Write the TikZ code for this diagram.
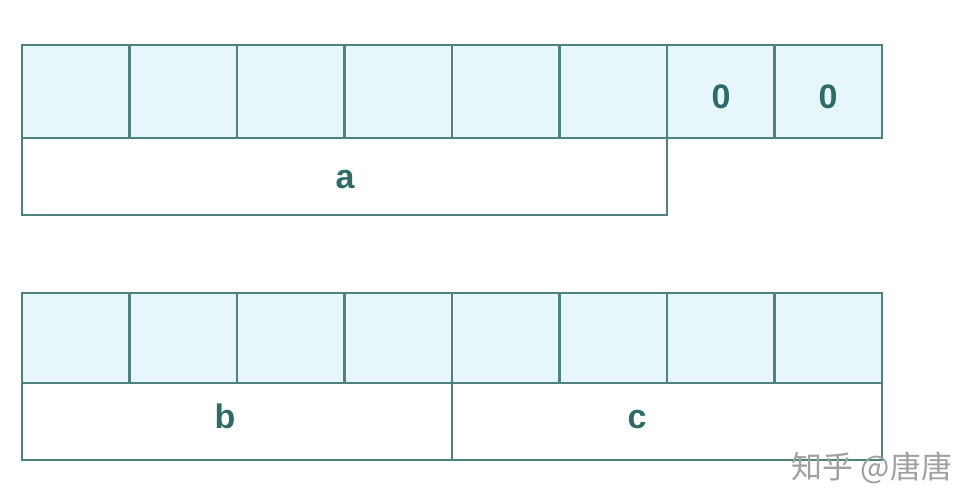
\documentclass[tikz,border=0pt]{standalone}
\usepackage{fontspec}
\setmainfont{Liberation Sans}
\newfontfamily\cjk{Noto Sans CJK SC}
\definecolor{edge}{HTML}{4E827D}
\definecolor{cellfill}{HTML}{E6F6FB}
\definecolor{txt}{HTML}{2F6B66}
\definecolor{wm}{HTML}{A0A0A0}
\begin{document}
\begin{tikzpicture}[x=1pt,y=-1pt,
  cellbox/.style={draw=edge,fill=cellfill,line width=2.4pt},
  labbox/.style={draw=edge,fill=white,line width=2.4pt},
  lab/.style={text=txt,anchor=base,font=\fontsize{34}{34}\selectfont\bfseries}]
\useasboundingbox (0,0) rectangle (971,503);
\fill[white] (0,0) rectangle (971,503);
% top row
\foreach \i in {0,...,7} {
  \path[cellbox] ({22+107.5*\i},45) rectangle ({22+107.5*(\i+1)},138);
}
\node[lab] (z1) at (721,108) {0};
\node[lab] (z2) at (828,108) {0};
\path[labbox] (22,138) rectangle (667,215);
\node[lab] (a) at (345,188) {a};
% bottom row
\foreach \i in {0,...,7} {
  \path[cellbox] ({22+107.5*\i},293) rectangle ({22+107.5*(\i+1)},383);
}
\path[labbox] (22,383) rectangle (452,460);
\path[labbox] (452,383) rectangle (882,460);
\node[lab] (b) at (225,428) {b};
\node[lab] (c) at (637,428) {c};
\node[text=wm,font=\cjk\fontsize{31}{31}\selectfont] (w) at (872,468) {知乎 @唐唐};
\end{tikzpicture}
\end{document}
